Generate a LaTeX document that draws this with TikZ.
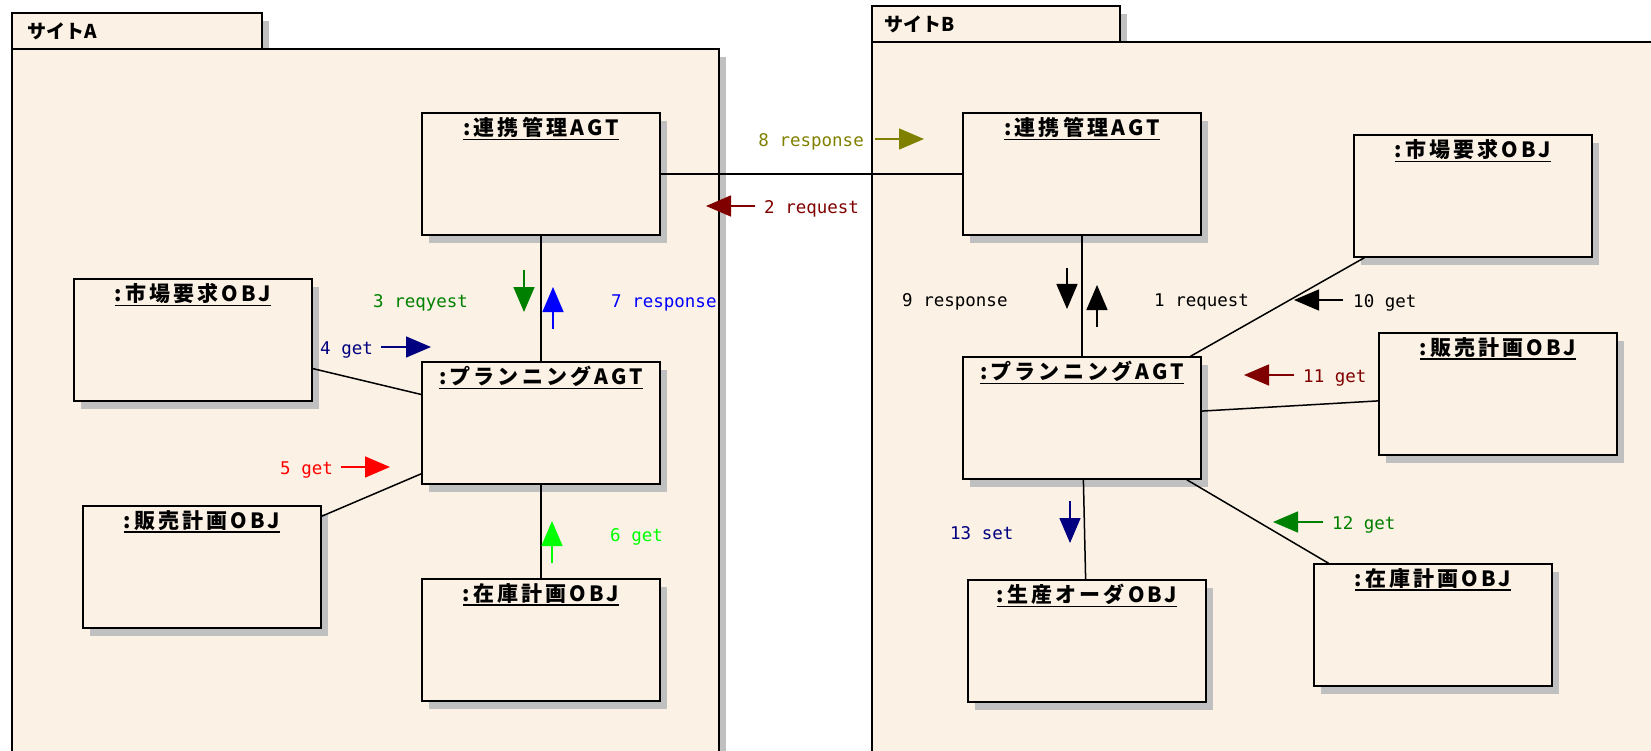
\documentclass[tikz,border=0pt]{standalone}
\usepackage{fontspec}
\usepackage{xcolor}
\usepackage{tikz}
\usetikzlibrary{shadows,arrows.meta}

\newfontfamily\jpfont{Noto Sans CJK JP}[LetterSpace=15]
\newfontfamily\pkgfont{Noto Sans CJK JP}
\newfontfamily\msgfont{DejaVu Sans Mono}

\definecolor{objfill}{RGB}{251,241,228}
\definecolor{shadowgray}{RGB}{192,192,192}
\definecolor{msgnavy}{RGB}{0,0,128}
\definecolor{msgdarkred}{RGB}{128,0,0}
\definecolor{msgolive}{RGB}{128,128,0}
\definecolor{msggreen}{RGB}{0,128,0}
\definecolor{msglime}{RGB}{0,255,0}

\newcommand{\objname}[1]{\setbox0=\hbox{#1}\rlap{\rule[-4.5pt]{\wd0}{1.6pt}}\box0}

\begin{document}
\begin{tikzpicture}[x=1pt,y=1pt,yscale=-1,xscale=1,
  boxshadow/.style={drop shadow={shadow xshift=7pt,shadow yshift=-8pt,fill=shadowgray,opacity=1}},
  obj/.style={draw,line width=1.4pt,fill=objfill,minimum width=238pt,minimum height=122pt,inner sep=0pt,boxshadow},
  objtitle/.style={anchor=north,inner sep=5pt,font=\jpfont\bfseries\fontsize{21}{24}\selectfont},
  pkg/.style={draw,line width=1.4pt,fill=objfill,boxshadow},
  pkgtitle/.style={anchor=base west,inner sep=0pt,font=\pkgfont\bfseries\fontsize{19}{22}\selectfont},
  link/.style={line width=1.5pt},
  msg/.style={line width=1.5pt,-{Triangle[length=25pt,width=21pt]}},
  msglabel/.style={inner sep=0pt,font=\msgfont\fontsize{17.5}{20}\selectfont}]

\useasboundingbox (0,0) rectangle (1651,751);

% packages
\draw[pkg] (12,13) rectangle (262,49);
\draw[pkg] (12,49) rectangle (719,790);
\node[pkgtitle] (siteA) at (27,39) {サイトA};

\draw[pkg] (872,6) rectangle (1120,42);
\draw[pkg] (872,42) rectangle (1700,790);
\node[pkgtitle] (siteB) at (884,32) {サイトB};

% site A
\node[obj,label={[objtitle]north:\objname{:連携管理AGT}}] (renkeiA) at (541,174) {};
\node[obj,label={[objtitle]north:\objname{:市場要求OBJ}}] (shijoA) at (193,340) {};
\node[obj,label={[objtitle]north:\objname{:プランニングAGT}}] (planA) at (541,423) {};
\node[obj,label={[objtitle]north:\objname{:販売計画OBJ}}] (hanbaiA) at (202,567) {};
\node[obj,label={[objtitle]north:\objname{:在庫計画OBJ}}] (zaikoA) at (541,640) {};

% site B
\node[obj,label={[objtitle]north:\objname{:連携管理AGT}}] (renkeiB) at (1082,174) {};
\node[obj,label={[objtitle]north:\objname{:市場要求OBJ}}] (shijoB) at (1473,196) {};
\node[obj,label={[objtitle]north:\objname{:プランニングAGT}}] (planB) at (1082,418) {};
\node[obj,label={[objtitle]north:\objname{:販売計画OBJ}}] (hanbaiB) at (1498,394) {};
\node[obj,label={[objtitle]north:\objname{:生産オーダOBJ}}] (seisanB) at (1087,641) {};
\node[obj,label={[objtitle]north:\objname{:在庫計画OBJ}}] (zaikoB) at (1433,625) {};

% links
\draw[link] (renkeiA) -- (renkeiB);
\draw[link] (renkeiA) -- (planA);
\draw[link] (shijoA) -- (planA);
\draw[link] (hanbaiA) -- (planA);
\draw[link] (planA) -- (zaikoA);
\draw[link] (renkeiB) -- (planB);
\draw[link] (planB) -- (shijoB);
\draw[link] (planB) -- (hanbaiB);
\draw[link] (planB) -- (seisanB);
\draw[link] (planB) -- (zaikoB);

% messages
\node[msglabel,text=black,anchor=base west] (m1) at (1154,306) {1 request};
\node[msglabel,text=msgdarkred,anchor=base west] (m2) at (764,214) {2 request};
\node[msglabel,text=msggreen,anchor=base west] (m3) at (373,307) {3 reqyest};
\node[msglabel,text=msgnavy,anchor=base west] (m4) at (320,354) {4 get};
\node[msglabel,text=red,anchor=base west] (m5) at (280,474) {5 get};
\node[msglabel,text=msglime,anchor=base west] (m6) at (610,541) {6 get};
\node[msglabel,text=blue,anchor=base west] (m7) at (611,307) {7 response};
\node[msglabel,text=msgolive,anchor=base east] (m8) at (864,147) {8 response};
\node[msglabel,text=black,anchor=base west] (m9) at (902,306) {9 response};
\node[msglabel,text=black,anchor=base west] (m10) at (1353,307) {10 get};
\node[msglabel,text=msgdarkred,anchor=base west] (m11) at (1303,382) {11 get};
\node[msglabel,text=msggreen,anchor=base west] (m12) at (1332,529) {12 get};
\node[msglabel,text=msgnavy,anchor=base west] (m13) at (950,539) {13 set};

\coordinate (a1) at (1097,327);
\coordinate (a2) at (755,206);
\coordinate (a3) at (524,270);
\coordinate (a4) at (381,347);
\coordinate (a5) at (341,467);
\coordinate (a6) at (552,563);
\coordinate (a7) at (553,329);
\coordinate (a8) at (875,139);
\coordinate (a9) at (1067,268);
\coordinate (a10) at (1343,300);
\coordinate (a11) at (1294,375);
\coordinate (a12) at (1323,522);
\coordinate (a13) at (1070,501);

\draw[msg,black] (a1) -- ++(0,-42);
\draw[msg,msgdarkred] (a2) -- ++(-49,0);
\draw[msg,msggreen] (a3) -- ++(0,42);
\draw[msg,msgnavy] (a4) -- ++(50,0);
\draw[msg,red] (a5) -- ++(49,0);
\draw[msg,msglime] (a6) -- ++(0,-42);
\draw[msg,blue] (a7) -- ++(0,-42);
\draw[msg,msgolive] (a8) -- ++(49,0);
\draw[msg,black] (a9) -- ++(0,41);
\draw[msg,black] (a10) -- ++(-49,0);
\draw[msg,msgdarkred] (a11) -- ++(-50,0);
\draw[msg,msggreen] (a12) -- ++(-50,0);
\draw[msg,msgnavy] (a13) -- ++(0,42);

\end{tikzpicture}
\end{document}
